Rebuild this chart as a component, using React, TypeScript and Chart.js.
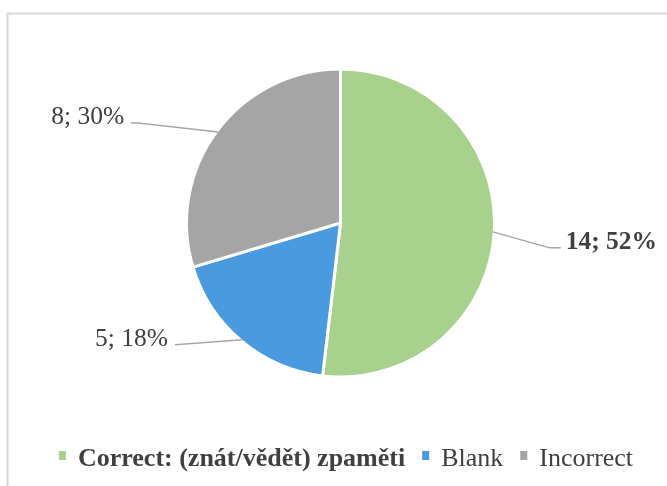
import React, { useEffect, useRef } from "react";
import { Chart, registerables } from "chart.js";

Chart.register(...registerables);

// ---- data ----
const categories = ["Correct: (znát/vědět) zpaměti", "Blank", "Incorrect"];
const counts = [14, 5, 8];
const percents = [52, 18, 30];
const boldCategory = [true, false, false];

// ---- styles ----
const sliceColors = ["#A9D18E", "#4A9AE0", "#A5A5A5"];
const FONT = "'Liberation Serif', 'Times New Roman', serif";
const TEXT = "#404040";
const LEADER = "#A6A6A6";
const BORDER_W = 3;

// label layout: elbow offset from slice edge, then horizontal tail
const labelLayout = [
  { dx: 57, dy: 16, tail: 11, align: "left" as CanvasTextAlign },
  { dx: -67.5, dy: 5, tail: 0, align: "right" as CanvasTextAlign },
  { dx: -80, dy: -9, tail: -7, align: "right" as CanvasTextAlign },
];

const decorPlugin = {
  id: "decor",
  beforeDraw(chart: any) {
    const ctx = chart.ctx as CanvasRenderingContext2D;
    ctx.save();
    ctx.fillStyle = "#FFFFFF";
    ctx.fillRect(0, 0, chart.width, chart.height);
    ctx.strokeStyle = "#D9D9D9";
    ctx.lineWidth = 2;
    ctx.beginPath();
    ctx.moveTo(7.5, chart.height);
    ctx.lineTo(7.5, 13.5);
    ctx.lineTo(chart.width, 13.5);
    ctx.stroke();
    ctx.restore();
  },
  afterDatasetsDraw(chart: any) {
    const ctx = chart.ctx as CanvasRenderingContext2D;
    const meta = chart.getDatasetMeta(0);
    ctx.save();
    meta.data.forEach((arc: any, i: number) => {
      const p = arc.getProps(["x", "y", "startAngle", "endAngle", "outerRadius"], true);
      const mid = (p.startAngle + p.endAngle) / 2;
      const r = p.outerRadius - BORDER_W / 2;
      const ex = p.x + Math.cos(mid) * r;
      const ey = p.y + Math.sin(mid) * r;
      const L = labelLayout[i];
      const bx = ex + L.dx;
      const by = ey + L.dy;
      const tx = bx + L.tail;
      ctx.strokeStyle = LEADER;
      ctx.lineWidth = 1.5;
      ctx.beginPath();
      ctx.moveTo(ex, ey);
      ctx.lineTo(bx, by);
      if (L.tail !== 0) ctx.lineTo(tx, by);
      ctx.stroke();
      ctx.font = `${boldCategory[i] ? "bold " : ""}25.5px ${FONT}`;
      ctx.fillStyle = TEXT;
      ctx.textAlign = L.align;
      ctx.textBaseline = "alphabetic";
      const lx = L.align === "left" ? tx + 5 : tx - 7;
      ctx.fillText(`${counts[i]}; ${percents[i]}%`, lx, by + 1.5);
    });

    // legend
    const fontSize = 26;
    const sqW = 7;
    const sqH = 9;
    const gapText = 12;
    const gapItem = 17;
    const widths = categories.map((c, i) => {
      ctx.font = `${boldCategory[i] ? "bold " : ""}${fontSize}px ${FONT}`;
      return ctx.measureText(c).width;
    });
    const total =
      widths.reduce((a, w) => a + sqW + gapText + w, 0) + gapItem * (categories.length - 1);
    let x = 346 - total / 2;
    const baseline = 466;
    categories.forEach((c, i) => {
      ctx.fillStyle = sliceColors[i];
      ctx.fillRect(x, 451, sqW, sqH);
      x += sqW + gapText;
      ctx.font = `${boldCategory[i] ? "bold " : ""}${fontSize}px ${FONT}`;
      ctx.fillStyle = TEXT;
      ctx.textAlign = "left";
      ctx.fillText(c, x, baseline);
      x += widths[i] + gapItem;
    });
    ctx.restore();
  },
};

export default function App() {
  const ref = useRef<HTMLCanvasElement | null>(null);

  useEffect(() => {
    document.body.style.margin = "0";
    if (!ref.current) return;
    const chart = new Chart(ref.current, {
      type: "pie",
      data: {
        labels: categories,
        datasets: [
          {
            data: counts,
            backgroundColor: sliceColors,
            borderColor: "#FFFFFF",
            borderWidth: BORDER_W,
          },
        ],
      },
      options: {
        responsive: false,
        animation: false,
        layout: { padding: { left: 185, right: 171, top: 67.5, bottom: 107.5 } },
        plugins: {
          legend: { display: false },
          tooltip: { enabled: false },
        },
      },
      plugins: [decorPlugin],
    });
    return () => chart.destroy();
  }, []);

  return (
    <canvas ref={ref} width={667} height={486} style={{ display: "block", width: 667, height: 486 }} />
  );
}
